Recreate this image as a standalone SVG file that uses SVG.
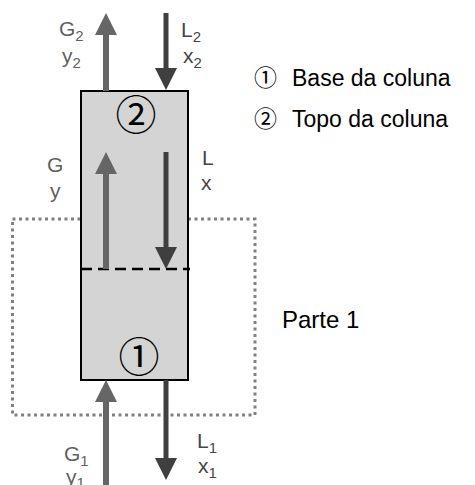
<svg xmlns="http://www.w3.org/2000/svg" width="475" height="485" viewBox="0 0 475 485">
<defs>
<style>
.lbl{font-family:"Liberation Sans","Noto Sans CJK JP",sans-serif;font-size:21px;}
.g{fill:#5f5f5f;}
.l{fill:#454545;}
.sub{font-size:15px;}
.leg{font-family:"Liberation Sans","Noto Sans CJK JP",sans-serif;font-size:23px;fill:#000;}
.num{font-family:"Noto Sans CJK JP",sans-serif;font-size:41px;fill:#000;}
.ga{stroke:#666666;stroke-width:6;fill:none;}
.la{stroke:#3f3f3f;stroke-width:5;fill:none;}
.gh{fill:#666666;}
.lh{fill:#3f3f3f;}
</style>
</defs>
<g id="part1">
<rect x="12.5" y="219" width="242.5" height="196" fill="none" stroke="#808080" stroke-width="3" stroke-dasharray="3 3.5"/>
<text class="leg" x="282" y="328" style="font-size:24px">Parte 1</text>
</g>
<g id="column">
<rect x="81" y="91" width="107" height="289" fill="#d4d4d4" stroke="#000" stroke-width="2"/>
<line x1="81" y1="269" x2="190" y2="269" stroke="#000" stroke-width="2.5" stroke-dasharray="11 6"/>
<text class="num" x="136" y="130" text-anchor="middle">②</text>
<text class="num" x="139" y="372" text-anchor="middle">①</text>
</g>
<g id="connectors">
<line class="ga" x1="106" y1="91" x2="106" y2="34"/>
<polygon class="gh" points="106,13 95,35 117,35"/>
<line class="la" x1="166" y1="13" x2="166" y2="70"/>
<polygon class="lh" points="166,90 155,68 177,68"/>
<line class="ga" x1="106" y1="269" x2="106" y2="172"/>
<polygon class="gh" points="106,152 95,174 117,174"/>
<line class="la" x1="166" y1="152" x2="166" y2="249"/>
<polygon class="lh" points="166,269 155,247 177,247"/>
<line class="ga" x1="106" y1="485" x2="106" y2="400"/>
<polygon class="gh" points="106,380 95,402 117,402"/>
<line class="la" x1="166" y1="380" x2="166" y2="460"/>
<polygon class="lh" points="166,480 155,458 177,458"/>
</g>
<g id="labels">
<text class="lbl g" x="59" y="36">G<tspan class="sub" dy="5">2</tspan></text>
<text class="lbl g" x="62" y="63">y<tspan class="sub" dy="5">2</tspan></text>
<text class="lbl l" x="181" y="37">L<tspan class="sub" dy="5">2</tspan></text>
<text class="lbl l" x="183" y="63">x<tspan class="sub" dy="5">2</tspan></text>
<text class="lbl g" x="47" y="172">G</text>
<text class="lbl g" x="50" y="198">y</text>
<text class="lbl l" x="202" y="165">L</text>
<text class="lbl l" x="201" y="190">x</text>
<text class="lbl g" x="64" y="461">G<tspan class="sub" dy="5">1</tspan></text>
<text class="lbl g" x="66" y="484">y<tspan class="sub" dy="4">1</tspan></text>
<text class="lbl l" x="197" y="448">L<tspan class="sub" dy="5">1</tspan></text>
<text class="lbl l" x="198" y="473">x<tspan class="sub" dy="5">1</tspan></text>
</g>
<g id="legend">
<text class="leg" y="86"><tspan x="254">①</tspan><tspan x="292">Base da coluna</tspan></text>
<text class="leg" y="127"><tspan x="254">②</tspan><tspan x="292">Topo da coluna</tspan></text>
</g>
</svg>
